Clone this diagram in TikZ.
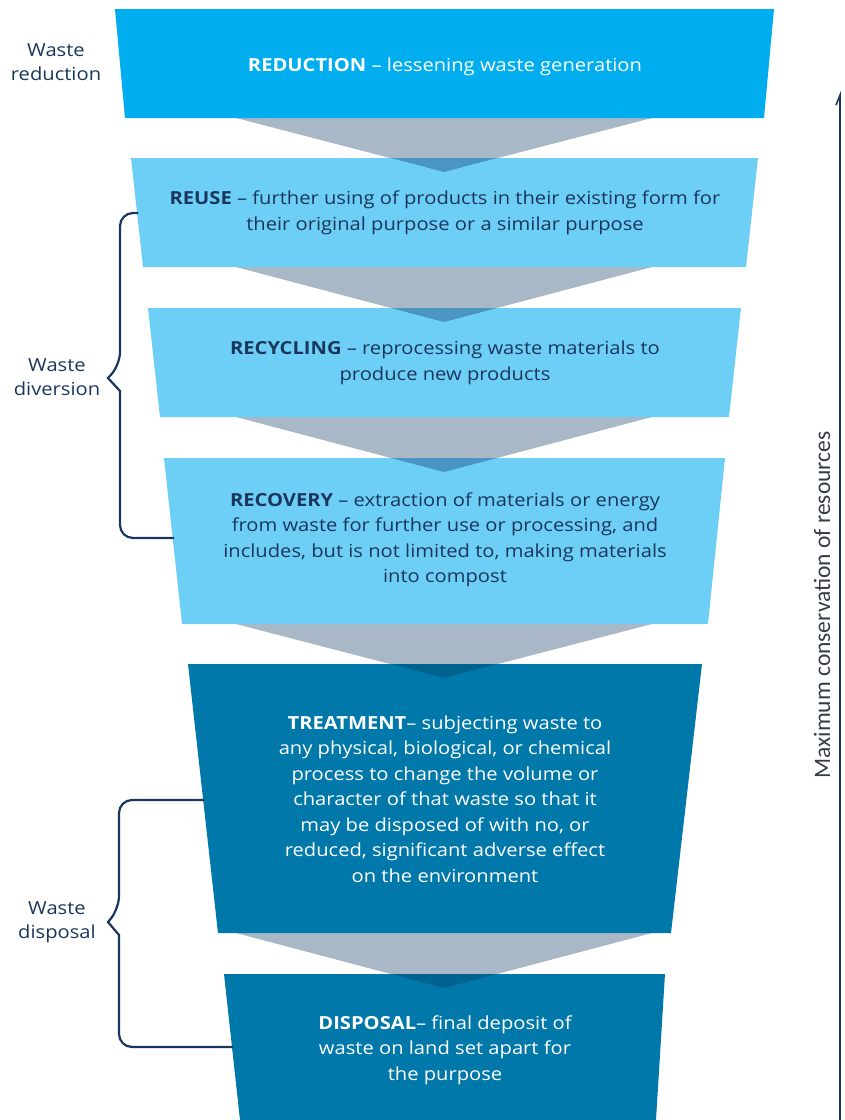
\documentclass[tikz,border=0pt]{standalone}
\usepackage{fontspec}
\setmainfont{Open Sans}[FakeStretch=1.12]
\newfontfamily\axisfont{Carlito}
\usetikzlibrary{arrows.meta}
\definecolor{cyanbox}{HTML}{00AEEF}
\definecolor{lightbox}{HTML}{6DCFF6}
\definecolor{darkbox}{HTML}{0078A9}
\definecolor{tri}{HTML}{A9B8C7}
\definecolor{trilight}{HTML}{4A95C4}
\definecolor{tridark}{HTML}{00628F}
\definecolor{navy}{HTML}{1B365D}
\definecolor{axisgray}{HTML}{333D4A}
\tikzstyle{tiertext}=[align=center, font=\fontsize{18}{25.5}\selectfont]
\tikzstyle{navytext}=[tiertext, text=navy]
\tikzstyle{whitetext}=[tiertext, text=white]
\tikzstyle{sidelabel}=[align=center, text=navy, font=\fontsize{18}{24}\selectfont]
\tikzstyle{brace}=[draw=navy, line width=2.2pt, rounded corners=13pt]
\tikzstyle{arrow}=[draw=navy, line width=1.6pt, -{Straight Barb[left, length=10pt, width=8pt]}]

\begin{document}
\begin{tikzpicture}[x=1pt, y=-1pt]
	\useasboundingbox (0,0) rectangle (845,1120);
	\begin{scope}
		% grey arrows between the tiers
		\fill[tri] (236,118) -- (652,118) -- (444,172) -- cycle;
		\fill[tri] (236,267) -- (652,267) -- (444,322) -- cycle;
		\fill[tri] (236,417) -- (652,417) -- (444,472) -- cycle;
		\fill[tri] (236,624) -- (652,624) -- (444,678) -- cycle;
		\fill[tri] (236,933) -- (652,933) -- (444,988) -- cycle;
	\end{scope}
	\begin{scope}
		% the tiers
		\fill[cyanbox] (115,9) -- (774,9) -- (764,118) -- (125,118) -- cycle;
		\fill[lightbox] (131,158) -- (758,158) -- (746,267) -- (143,267) -- cycle;
		\fill[lightbox] (148,308) -- (741,308) -- (729,417) -- (160,417) -- cycle;
		\fill[lightbox] (164,458) -- (725,458) -- (708,624) -- (182,624) -- cycle;
		\fill[darkbox] (188,664) -- (702,664) -- (671,933) -- (218,933) -- cycle;
		\fill[darkbox] (224,974) -- (665,974) -- (656,1120) -- (240,1120) -- cycle;
		% tips of the grey arrows over the tiers
		\fill[trilight] (391,158) -- (497,158) -- (444,172) -- cycle;
		\fill[trilight] (391,308) -- (497,308) -- (444,322) -- cycle;
		\fill[trilight] (391,458) -- (497,458) -- (444,472) -- cycle;
		\fill[tridark] (391,664) -- (497,664) -- (444,678) -- cycle;
		\fill[tridark] (391,974) -- (497,974) -- (444,988) -- cycle;
	\end{scope}
	\begin{scope}
		\node (reduction) at (445,67) [whitetext] {\textbf{REDUCTION} – lessening waste generation};
		\node (reuse) at (445,213) [navytext] {\textbf{REUSE} – further using of products in their existing form for\\their original purpose or a similar purpose};
		\node (recycling) at (445,363) [navytext] {\textbf{RECYCLING} – reprocessing waste materials to\\produce new products};
		\node (recovery) at (445,540) [navytext] {\textbf{RECOVERY} – extraction of materials or energy\\from waste for further use or processing, and\\includes, but is not limited to, making materials\\into compost};
		\node (treatment) at (445,799) [whitetext] {\textbf{TREATMENT}– subjecting waste to\\any physical, biological, or chemical\\process to change the volume or\\character of that waste so that it\\may be disposed of with no, or\\reduced, significant adverse effect\\on the environment};
		\node (disposal) at (445,1050) [whitetext] {\textbf{DISPOSAL}– final deposit of\\waste on land set apart for\\the purpose};
	\end{scope}
	\begin{scope}
		\node (lreduction) at (56,62) [sidelabel] {Waste\\reduction};
		\node (ldiversion) at (57,377) [sidelabel] {Waste\\diversion};
		\node (ldisposal) at (57,922) [sidelabel] {Waste\\disposal};
		\coordinate (divtop) at (138,213);
		\coordinate (divbot) at (174,538);
		\coordinate (distop) at (204,800);
		\coordinate (disbot) at (233,1047);
		\node (axis) at (822,605) [rotate=90, text=axisgray, font=\axisfont\fontsize{23.5}{26}\selectfont] {Maximum conservation of resources};
		\coordinate (arrbot) at (840,1120);
		\coordinate (arrtop) at (840,91);
	\end{scope}
	\begin{scope}
		\draw[brace] (divtop) -- (120,213) -- (120,365) [sharp corners] -- (108,378) -- (120,391) [rounded corners=13pt] -- (120,538) -- (divbot);
		\draw[brace] (distop) -- (119,800) -- (119,909) [sharp corners] -- (108,922) -- (119,935) [rounded corners=13pt] -- (119,1047) -- (disbot);
		\draw[arrow] (arrbot) -- (arrtop);
	\end{scope}
\end{tikzpicture}
\end{document}
